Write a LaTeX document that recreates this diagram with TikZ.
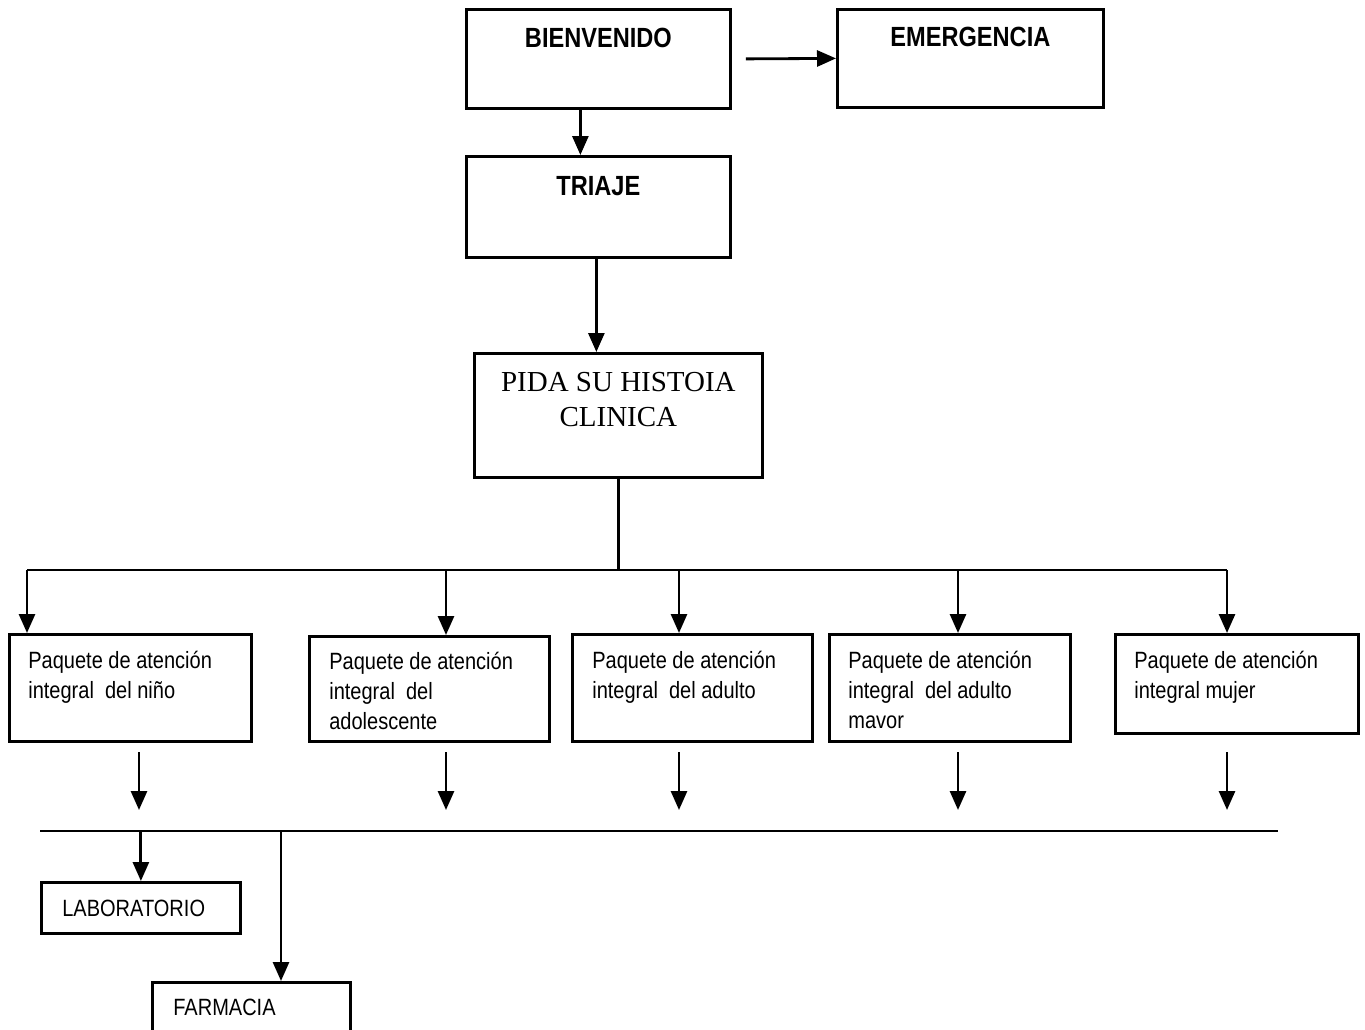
\documentclass[tikz,border=0pt]{standalone}
\usepackage{fontspec}
\setmainfont{Liberation Sans}[FakeStretch=0.85]
\newfontfamily\tmsfont{Liberation Serif}
\usetikzlibrary{arrows.meta}
\usetikzlibrary{calc}
\newcommand{\cjw}{5.28cm}
\newcommand{\cjh}{1.98cm}
\newcommand{\pqw}{4.8cm}
\newcommand{\pqh}{2.14cm}
\newcommand{\txsh}{0.4cm}
\begin{document}
\begin{tikzpicture}[x=0.02cm,y=-0.02cm,
    caja/.style={draw,line width=1.6pt,inner sep=0pt,anchor=north west},
    titulo/.style={font=\fontsize{15.8}{19}\selectfont\bfseries,
      inner sep=0pt,anchor=base},
    txt/.style={font=\fontsize{13.4}{17}\selectfont,inner sep=0pt,
      anchor=north west,align=left},
    flecha/.style={line width=1.6pt,-{Triangle[length=0.38cm,width=0.32cm]}},
    linea/.style={line width=1.6pt}]
    \useasboundingbox (0,0) rectangle (1365,1030);

    % cajas superiores
    \node[caja,minimum width=\cjw,minimum height=\cjh] (bienv) at (465,8) {};
    \node[caja,minimum width=5.32cm,minimum height=1.96cm] (emerg) at (836,8) {};
    \node[caja,minimum width=\cjw,minimum height=2.02cm] (triaje) at (465,155) {};
    \node[caja,minimum width=5.76cm,minimum height=2.48cm] (hist) at (473,352) {};

    \node[titulo] (tbienv) at ([yshift=-0.8cm]bienv.north) {BIENVENIDO};
    \node[titulo] (temerg) at ([yshift=-0.78cm]emerg.north) {EMERGENCIA};
    \node[titulo] (ttriaje) at ([yshift=-0.82cm]triaje.north) {TRIAJE};
    \node[font=\fontsize{16.5}{20}\selectfont\tmsfont,inner sep=0pt,
      anchor=north,align=center] (thist) at ([yshift=-0.4cm]hist.north)
      {PIDA SU HISTOIA\\CLINICA};

    % paquetes
    \node[caja,minimum width=4.84cm,minimum height=\pqh] (p1) at (8,633) {};
    \node[caja,minimum width=\pqw,minimum height=2.1cm] (p2) at (308,635) {};
    \node[caja,minimum width=\pqw,minimum height=\pqh] (p3) at (571,633) {};
    \node[caja,minimum width=4.82cm,minimum height=\pqh] (p4) at (828,633) {};
    \node[caja,minimum width=4.86cm,minimum height=\cjh] (p5) at (1114,633) {};

    \node[txt] (tp1) at ([shift={(\txsh,-0.36cm)}]p1.north west)
      {Paquete de atención\\integral\ \ del niño};
    \node[txt] (tp2) at ([shift={(0.42cm,-0.34cm)}]p2.north west)
      {Paquete de atención\\integral\ \ del\\adolescente};
    \node[txt] (tp3) at ([shift={(0.42cm,-0.36cm)}]p3.north west)
      {Paquete de atención\\integral\ \ del adulto};
    \node[txt] (tp4) at ([shift={(\txsh,-0.36cm)}]p4.north west)
      {Paquete de atención\\integral\ \ del adulto\\mavor};
    \node[txt] (tp5) at ([shift={(\txsh,-0.36cm)}]p5.north west)
      {Paquete de atención\\integral mujer};

    % servicios
    \node[caja,minimum width=3.98cm,minimum height=1.02cm] (lab) at (40,881) {};
    \node[caja,minimum width=3.96cm,minimum height=1.1cm] (farm) at (151,981) {};
    \node[txt] (tlab) at ([shift={(0.44cm,-0.38cm)}]lab.north west) {LABORATORIO};
    \node[txt] (tfarm) at ([shift={(0.44cm,-0.36cm)}]farm.north west) {FARMACIA};

    % conectores
    \draw[flecha] ([xshift=0.28cm]bienv.east) -- (emerg.west);
    \draw[flecha] ([xshift=-0.36cm]bienv.south)
      -- ([xshift=-0.36cm]bienv.south |- triaje.north);
    \draw[flecha] ([xshift=-0.04cm]triaje.south)
      -- ([xshift=-0.04cm]triaje.south |- hist.north);

    \coordinate (busl) at (27,570);
    \coordinate (busr) at (1227,570);
    \draw[linea] (hist.south) -- (hist.south |- busl);
    \draw[linea] (busl) -- (busr);
    \foreach \x/\n in {27/1,446/2,679/3,958/4,1227/5}{
      \coordinate (b\n) at (\x,570);
      \draw[flecha] (b\n) -- (b\n |- p\n.north);
    }
    \foreach \x/\n in {139/1,446/2,679/3,958/4,1227/5}{
      \coordinate (s\n) at (\x,752);
      \coordinate (e\n) at (\x,810);
      \draw[flecha] (s\n) -- (e\n);
    }

    \coordinate (bbl) at (40,831);
    \coordinate (bbr) at (1278,831);
    \coordinate (bbf) at (281,831);
    \draw[linea] (bbl) -- (bbr);
    \draw[flecha] (lab.north |- bbl) -- (lab.north);
    \draw[flecha] (bbf) -- (bbf |- farm.north);
\end{tikzpicture}
\end{document}
